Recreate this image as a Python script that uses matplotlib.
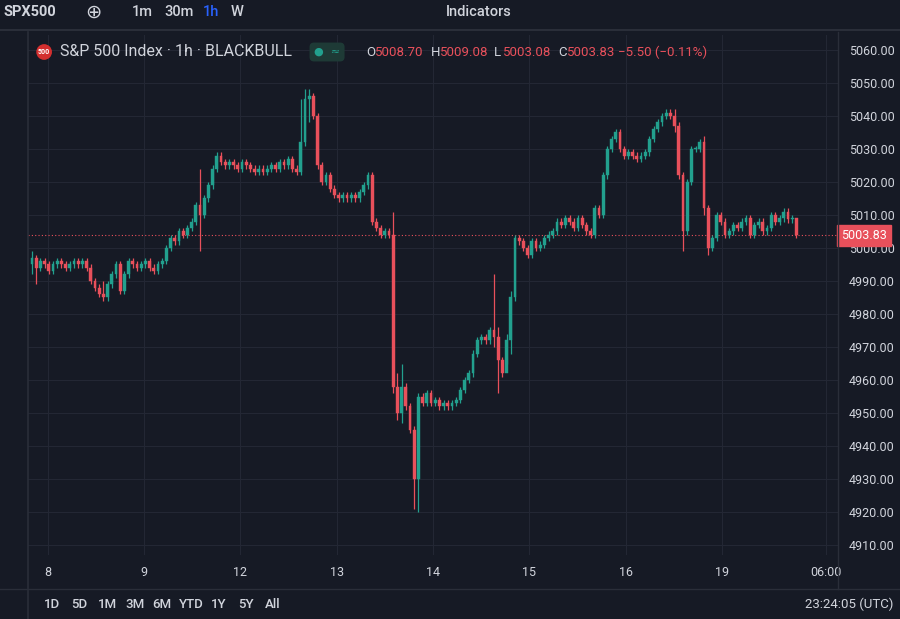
import matplotlib.pyplot as plt
from matplotlib.patches import Rectangle

plt.rcParams['font.family'] = 'Roboto'

# hourly closes, S&P 500 (BLACKBULL)
closes = [
    4997, 4994, 4996, 4995, 4993, 4995, 4996, 4995, 4994, 4995, 4996, 4995, 4996, 4994, 4990, 4988, 4986, 4985, 4989, 4992, 4995, 4987, 4992,
    4996, 4995, 4994, 4995, 4996, 4994, 4993, 4995, 4996, 5000, 5003, 5002, 5005, 5004, 5006, 5008, 5013, 5010, 5015, 5019, 5024, 5028, 5026,
    5025, 5026, 5025, 5024, 5026, 5025, 5024, 5023, 5024, 5023, 5024, 5025, 5024, 5026, 5025, 5027, 5024, 5023, 5032, 5045, 5046, 5040, 5025,
    5020, 5022, 5018, 5016, 5015, 5016, 5015, 5016, 5015, 5017, 5019, 5022, 5008, 5006, 5004, 5005, 5004, 4958, 4950, 4958, 4952, 4945, 4930,
    4955, 4953, 4956, 4953, 4954, 4952, 4953, 4952, 4953, 4954, 4957, 4960, 4962, 4968, 4972, 4973, 4972, 4975, 4973, 4966, 4962, 4972, 4985,
    5003, 5002, 5000, 4998, 5002, 5000, 5001, 5003, 5004, 5005, 5008, 5007, 5009, 5008, 5006, 5009, 5007, 5005, 5004, 5012, 5010, 5022, 5030,
    5033, 5035, 5030, 5028, 5029, 5028, 5027, 5028, 5029, 5033, 5036, 5038, 5040, 5041, 5040, 5037, 5022, 5005, 5020, 5030, 5030, 5032, 5012,
    5000, 5003, 5010, 5008, 5004, 5005, 5007, 5006, 5008, 5009, 5004, 5007, 5008, 5005, 5006, 5010, 5008, 5009, 5011, 5008.7, 5009, 5003.83,
]
first_open = 4995
# candles with long wicks: index -> (high, low)
long_wicks = {
    0: (4999, 4992), 1: (4998, 4989), 17: (4990, 4984), 40: (5024, 4999), 64: (5045, 5022), 65: (5048, 5031),
    66: (5048, 5038), 86: (5011, 4956), 87: (4962, 4948), 88: (4965, 4947), 91: (4946, 4921), 92: (4956, 4920),
    110: (4992, 4970), 111: (4976, 4956), 113: (4974, 4965), 114: (4987, 4968), 153: (5042, 5035),
    155: (5023, 4999), 160: (5034, 5010), 161: (5013, 4998), 182: (5009.08, 5003.08),
}
day_labels = ['8', '9', '12', '13', '14', '15', '16', '19', '06:00']
day_ticks = [3.8, 26.7, 49.5, 72.6, 95.5, 118.3, 141.4, 164.3, 189.0]
price_ticks = list(range(4910, 5070, 10))
last_price = 5003.83
ohlc_labels = [('O', '5008.70'), ('H', '5009.08'), ('L', '5003.08'), ('C', '5003.83')]

BG = '#161a25'
GRID = '#232734'
UP = '#22a08e'
DOWN = '#e8505b'
TXT = '#d1d4dc'

fig = plt.figure(figsize=(9, 6.19), dpi=100, facecolor=BG)
ax = fig.add_axes([28 / 900, 64 / 619, 810 / 900, 520 / 619], facecolor=BG)

opens = [first_open] + closes[:-1]
for i, (o, c) in enumerate(zip(opens, closes)):
    col = UP if c >= o else DOWN
    hi, lo = long_wicks.get(i, (max(o, c) + 1.0, min(o, c) - 1.0))
    ax.vlines(i, lo, hi, color=col, lw=0.9, zorder=3)
    ax.add_patch(Rectangle((i - 0.33, min(o, c)), 0.66, max(abs(c - o), 0.4),
                           facecolor=col, edgecolor=col, lw=0.3, zorder=4))

ax.axhline(last_price, color=DOWN, lw=0.8, ls=(0, (1, 2)), zorder=2)
ax.set_xlim(-0.95, 191.9)
ax.set_ylim(4907, 5064.5)
ax.set_xticks(day_ticks)
ax.set_xticklabels(day_labels)
ax.set_yticks(price_ticks)
ax.set_yticklabels([f'{p:.2f}' for p in price_ticks])
ax.yaxis.tick_right()
ax.tick_params(colors=TXT, length=0, labelsize=9, pad=8)
ax.grid(color=GRID, lw=0.8)
for s in ax.spines.values():
    s.set_visible(False)

ax.text(1.004, (last_price - 4907) / (5064.5 - 4907), f'{last_price:.2f}', transform=ax.transAxes,
        color='white', fontsize=9, va='center', ha='left',
        bbox=dict(boxstyle='square,pad=0.3', fc=DOWN, ec=DOWN))

# top toolbar and legend
fig.add_artist(plt.Line2D([0, 1], [1 - 30 / 619] * 2, color='#2a2e39', lw=1.5))
fig.add_artist(plt.Line2D([28 / 900] * 2, [0, 1 - 32 / 619], color='#2a2e39', lw=1.2))
fig.add_artist(plt.Line2D([838 / 900] * 2, [30 / 619, 1 - 32 / 619], color='#2a2e39', lw=1))
fig.add_artist(plt.Line2D([0, 1], [30 / 619] * 2, color='#2a2e39', lw=1))
fig.text(3 / 900, 1 - 12 / 619, 'SPX500', color=TXT, fontsize=10.5, fontweight='bold', va='center')
fig.text(93 / 900, 1 - 12 / 619, '⊕', color=TXT, fontsize=14, va='center', ha='center', family='DejaVu Sans')
for lbl, x, c in [('1m', 132, TXT), ('30m', 164, TXT), ('1h', 203, '#2962ff'), ('W', 231, TXT)]:
    fig.text(x / 900, 1 - 12 / 619, lbl, color=c, fontsize=10.5, fontweight='medium', va='center')
fig.text(446 / 900, 1 - 12 / 619, 'Indicators', color=TXT, fontsize=10.5, fontweight='medium', va='center')

fig.text(38 / 900, 1 - 52 / 619, '500', color='white', fontsize=5, va='center', ha='left',
         fontweight='bold', bbox=dict(boxstyle='circle,pad=0.25', fc='#d32f2f', ec='none'))
fig.text(60 / 900, 1 - 52 / 619, 'S&P 500 Index · 1h · BLACKBULL', color=TXT, fontsize=11.5, va='center')
fig.text(314 / 900, 1 - 52 / 619, '●  ≈', color=UP, fontsize=8, va='center', family='DejaVu Sans',
         bbox=dict(boxstyle='round,pad=0.4', fc='#1e3a36', ec='none'))
for (k, v), x0 in zip(ohlc_labels, [366, 431, 494, 558]):
    fig.text(x0 / 900, 1 - 52 / 619, k, color=TXT, fontsize=9.5, va='center')
    fig.text((x0 + 9) / 900, 1 - 52 / 619, v, color=DOWN, fontsize=9.5, va='center')
fig.text(618 / 900, 1 - 52 / 619, '−5.50 (−0.11%)', color=DOWN, fontsize=9.5, va='center')

# bottom bar
x0 = 44
for lbl in ['1D', '5D', '1M', '3M', '6M', 'YTD', '1Y', '5Y', 'All']:
    fig.text(x0 / 900, 15 / 619, lbl, color=TXT, fontsize=9.5, fontweight='medium', va='center')
    x0 += 27 if len(lbl) < 3 else 32
fig.text(893 / 900, 15 / 619, '23:24:05 (UTC)', color=TXT, fontsize=9.5, va='center', ha='right')

fig.savefig('out.png', dpi=100, facecolor=BG)
